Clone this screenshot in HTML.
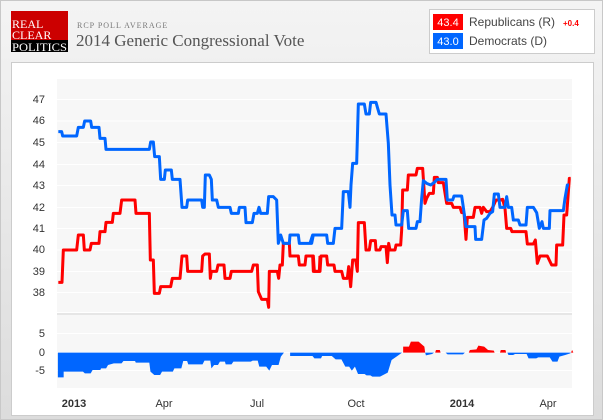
<!DOCTYPE html>
<html><head><meta charset="utf-8"><style>
body{margin:0;width:603px;height:420px;overflow:hidden;background:#e4e4e4;font-family:"Liberation Sans",sans-serif}
</style></head><body>
<svg width="603" height="420" xmlns="http://www.w3.org/2000/svg" style="position:absolute;left:0;top:0">
<defs><linearGradient id="bg" x1="0" y1="0" x2="0" y2="1"><stop offset="0" stop-color="#f4f4f4"/><stop offset="1" stop-color="#dcdcdc"/></linearGradient></defs>
<rect x="0" y="0" width="603" height="420" fill="url(#bg)"/>
<rect x="0.5" y="0.5" width="602" height="419" fill="none" stroke="#c8c8c8"/>
<!-- logo -->
<rect x="11" y="11" width="57" height="30" fill="#cc0000"/>
<rect x="11" y="40" width="57" height="12" fill="#000"/>
<text x="12" y="28" font-family="Liberation Serif,serif" font-size="12" fill="#fff">REAL</text>
<text x="12" y="39" font-family="Liberation Serif,serif" font-size="12" fill="#fff">CLEAR</text>
<text x="12" y="51" font-family="Liberation Serif,serif" font-size="12" fill="#fff" textLength="55" lengthAdjust="spacingAndGlyphs">POLITICS</text>
<text x="77" y="28" font-family="Liberation Serif,serif" font-size="8" fill="#777" letter-spacing="1">RCP POLL AVERAGE</text>
<text x="76" y="46" font-family="Liberation Serif,serif" font-size="17" fill="#555">2014 Generic Congressional Vote</text>
<!-- legend -->
<rect x="429.5" y="9.5" width="165" height="44" fill="#fff" stroke="#ccc"/>
<rect x="433" y="14" width="30" height="16" fill="#ff0000"/>
<text x="448" y="26" font-size="11" fill="#fff" text-anchor="middle">43.4</text>
<text x="469" y="26" font-size="12" fill="#444">Republicans (R)</text>
<text x="563" y="26" font-size="8" fill="#ff0000" font-weight="bold">+0.4</text>
<rect x="433" y="33" width="30" height="16" fill="#0066ff"/>
<text x="448" y="45" font-size="11" fill="#fff" text-anchor="middle">43.0</text>
<text x="469" y="45" font-size="12" fill="#444">Democrats (D)</text>
<!-- panel -->
<rect x="11.5" y="62.5" width="582" height="353" fill="#fff" stroke="#ccc"/>
<rect x="57" y="79" width="515" height="233" fill="#f7f7f7"/>
<rect x="57" y="315" width="515" height="73" fill="#f7f7f7"/>
<line x1="57" y1="314" x2="572" y2="314" stroke="#ccc"/>
<g stroke="#fff" stroke-width="1">
<line x1="57" x2="572" y1="99.5" y2="99.5"/><line x1="57" x2="572" y1="121" y2="121"/><line x1="57" x2="572" y1="142.5" y2="142.5"/><line x1="57" x2="572" y1="164.5" y2="164.5"/><line x1="57" x2="572" y1="185.5" y2="185.5"/><line x1="57" x2="572" y1="207.5" y2="207.5"/><line x1="57" x2="572" y1="228.5" y2="228.5"/><line x1="57" x2="572" y1="250" y2="250"/><line x1="57" x2="572" y1="271.5" y2="271.5"/><line x1="57" x2="572" y1="292.5" y2="292.5"/>
<line x1="57" x2="572" y1="333.5" y2="333.5"/><line x1="57" x2="572" y1="352.5" y2="352.5"/><line x1="57" x2="572" y1="370.5" y2="370.5"/>
</g>
<g font-size="11" fill="#333" text-anchor="end">
<text x="45" y="103">47</text><text x="45" y="124">46</text><text x="45" y="146">45</text><text x="45" y="168">44</text><text x="45" y="189">43</text><text x="45" y="211">42</text><text x="45" y="232">41</text><text x="45" y="253">40</text><text x="45" y="275">39</text><text x="45" y="296">38</text>
<text x="45" y="337">5</text><text x="45" y="356">0</text><text x="45" y="374">-5</text>
</g>
<g font-size="11" fill="#333" text-anchor="middle">
<text x="74" y="407" font-weight="bold">2013</text><text x="164" y="407">Apr</text><text x="257" y="407">Jul</text><text x="356" y="407">Oct</text><text x="462" y="407" font-weight="bold">2014</text><text x="548" y="407">Apr</text>
</g>
<!-- diff chart -->
<g transform="translate(0,300) scale(0.3858,0.33333)">
<polygon fill="#0066ff" points="150,158 150,232 165,232 165,215 215,215 220,220 235,220 240,210 260,210 262,205 275,205 280,195 295,190 315,190 320,183 350,183 352,188 387,188 390,215 400,225 415,225 420,215 448,215 452,205 470,205 475,183 485,183 488,193 525,193 530,182 545,182 548,205 555,195 565,195 570,185 583,185 585,193 600,193 605,185 650,185 655,182 668,182 672,200 690,200 698,212 705,195 722,195 728,170 736,158"/>
<polygon fill="#0066ff" points="752,158 752,168 810,168 815,175 832,175 835,168 860,168 870,178 885,178 895,200 905,200 912,212 920,200 928,222 945,222 950,226 960,226 965,230 985,230 1005,218 1015,180 1030,168 1042,158"/>
<polygon fill="#ff0000" points="1045,158 1045,140 1060,140 1065,125 1085,125 1100,140 1102,158"/>
<polygon fill="#0066ff" points="1102,158 1104,166 1120,162 1125,158"/>
<polygon fill="#ff0000" points="1128,158 1130,150 1140,150 1142,158"/>
<polygon fill="#0066ff" points="1155,158 1160,163 1200,163 1205,158"/>
<polygon fill="#ff0000" points="1215,158 1218,150 1235,148 1240,137 1255,140 1265,150 1280,152 1282,158"/>
<polygon fill="#ff0000" points="1296,158 1298,150 1310,150 1312,158"/>
<polygon fill="#0066ff" points="1315,158 1318,165 1330,165 1335,162 1365,162 1370,175 1390,175 1395,172 1425,172 1432,185 1445,185 1450,170 1465,165 1478,160 1480,158"/>
<polygon fill="#ff0000" points="1480,158 1483,150 1486,158"/>
</g>
<!-- main series -->
<g fill="none" stroke-width="3" stroke-linejoin="round">
<g transform="translate(50,90) scale(0.33333)">
<polyline stroke="#ff0000" vector-effect="non-scaling-stroke" points="25,577 36,577 40,480 80,480 85,435 100,435 103,480 120,480 124,460 147,460 150,425 165,425 168,397 187,397 190,370 210,370 215,330 255,330 258,370 298,370 301,510 310,510 313,610 328,610 332,590 362,590 367,565 390,565 396,498 410,498 413,544 455,544 458,498 465,492 478,492 481,565 484,544 500,544 504,525 522,525 525,565 540,565 544,544 605,544 610,525 622,525 625,605 635,628 652,628 656,652 658,544 682,544 686,565 690,525 697,525 700,460 718,460 720,498 745,498 748,525 765,525 768,498 790,498 793,544 808,544 810,498"/>
<polyline stroke="#0066ff" vector-effect="non-scaling-stroke" points="25,125 35,125 38,138 80,138 85,112 100,112 104,93 122,93 125,112 147,112 150,145 165,145 168,178 298,178 302,156 310,156 314,200 328,200 332,268 343,268 346,240 364,240 367,268 390,268 396,352 410,352 413,330 455,330 458,352 463,352 466,255 478,255 484,268 487,330 500,330 505,352 540,352 544,370 565,370 568,352 585,352 588,398 607,398 612,370 622,370 627,352 632,370 652,370 656,320 670,320 680,330 685,460 692,435 700,460 718,460 720,435 745,435 748,460 785,460 790,435 810,435"/>
</g>
<g transform="translate(310,90) scale(0.33333)">
<polyline stroke="#ff0000" vector-effect="non-scaling-stroke" points="0,498 8,498 10,544 30,544 33,498 50,498 53,525 72,525 75,544 95,544 100,565 112,565 116,530 122,590 128,510 137,510 142,544 145,398 163,398 168,480 178,480 182,452 196,452 198,480 210,480 213,470 228,470 232,518 236,460 240,480 255,480 258,465 272,465 275,420 278,300 292,300 295,255 318,255 322,235 338,235 345,340 350,325 358,310 370,310 373,262 382,262 385,278 400,278 410,340 425,340 430,352 450,352 455,368 462,368 468,448 472,382 490,382 495,352 510,352 515,370 520,352 530,365 540,365 548,352 558,330 570,330 578,328 585,355 590,415 602,415 606,425 648,425 652,462 670,462 676,450 682,520 690,498 712,498 725,525 738,525 740,465 758,465 762,375 770,375 778,265 782,265"/>
<polyline stroke="#0066ff" vector-effect="non-scaling-stroke" points="0,460 8,435 50,435 53,460 70,460 75,415 95,415 100,305 115,305 120,352 123,285 128,220 140,220 145,42 163,42 168,72 178,72 182,37 198,37 203,55 208,72 228,72 235,160 240,285 246,375 255,375 258,405 275,405 280,362 292,362 296,415 318,415 322,395 330,395 335,325 340,272 350,280 362,285 372,278 382,268 408,268 412,330 428,330 432,318 455,318 460,352 468,410 495,410 497,448 515,448 522,390 530,385 540,370 548,365 553,312 565,312 570,352 585,352 590,320 595,352 605,352 610,390 625,390 630,405 648,405 652,352 670,352 680,368 688,415 696,395 700,415 718,415 720,362 760,362 765,325 772,285 777,285"/>
</g>
</g>
</svg>
</body></html>
